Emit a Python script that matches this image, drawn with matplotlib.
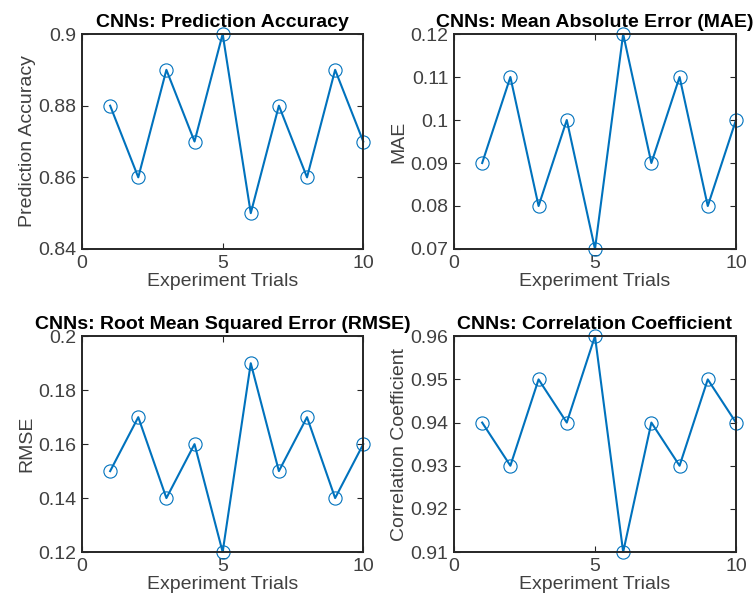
import matplotlib
matplotlib.use("Agg")
import matplotlib.pyplot as plt
from matplotlib.ticker import FuncFormatter
import numpy as np

plt.rcParams['font.family'] = ['Liberation Sans', 'DejaVu Sans']

# data
trials = np.arange(1, 11)
accuracy = [0.88, 0.86, 0.89, 0.87, 0.90, 0.85, 0.88, 0.86, 0.89, 0.87]
mae = [0.09, 0.11, 0.08, 0.10, 0.07, 0.12, 0.09, 0.11, 0.08, 0.10]
rmse = [0.15, 0.17, 0.14, 0.16, 0.12, 0.19, 0.15, 0.17, 0.14, 0.16]
corr = [0.94, 0.93, 0.95, 0.94, 0.96, 0.91, 0.94, 0.93, 0.95, 0.94]

titles = ['CNNs: Prediction Accuracy', 'CNNs: Mean Absolute Error (MAE)',
          'CNNs: Root Mean Squared Error (RMSE)', 'CNNs: Correlation Coefficient']
ylabels = ['Prediction Accuracy', 'MAE', 'RMSE', 'Correlation Coefficient']
yticks = [[0.84, 0.86, 0.88, 0.9],
          [0.07, 0.08, 0.09, 0.1, 0.11, 0.12],
          [0.12, 0.14, 0.16, 0.18, 0.2],
          [0.91, 0.92, 0.93, 0.94, 0.95, 0.96]]
series = [accuracy, mae, rmse, corr]

blue = '#0072BD'
grey = '#404040'

fig = plt.figure(figsize=(7.56, 6.01), dpi=100)
positions = [[0.1085, 0.5857, 0.372, 0.3577],
             [0.6005, 0.5857, 0.373, 0.3577],
             [0.1085, 0.0815, 0.372, 0.359],
             [0.6005, 0.0815, 0.373, 0.359]]

for pos, vals, title, ylab, yt in zip(positions, series, titles, ylabels, yticks):
    ax = fig.add_axes(pos)
    ax.plot(trials, vals, color=blue, linewidth=1.5, marker='o',
            markersize=9.5, markerfacecolor='none', markeredgewidth=0.8,
            clip_on=False)
    ax.set_xlim(0, 10)
    ax.set_xticks([0, 5, 10])
    ax.set_ylim(yt[0], yt[-1])
    ax.set_yticks(yt)
    ax.yaxis.set_major_formatter(FuncFormatter(lambda v, p: f'{v:g}'))
    ax.tick_params(direction='in', length=4, width=0.8, top=True, right=True,
                   labelsize=14, labelcolor=grey, color='#262626', pad=4)
    for s in ax.spines.values():
        s.set_linewidth(1.4)
        s.set_color('#262626')
    ax.set_title(title, fontsize=14, fontweight='bold', pad=5)
    ax.set_xlabel('Experiment Trials', fontsize=14, color=grey, labelpad=1)
    ax.set_ylabel(ylab, fontsize=14, color=grey, labelpad=2)

fig.savefig('out.png', dpi=100)
